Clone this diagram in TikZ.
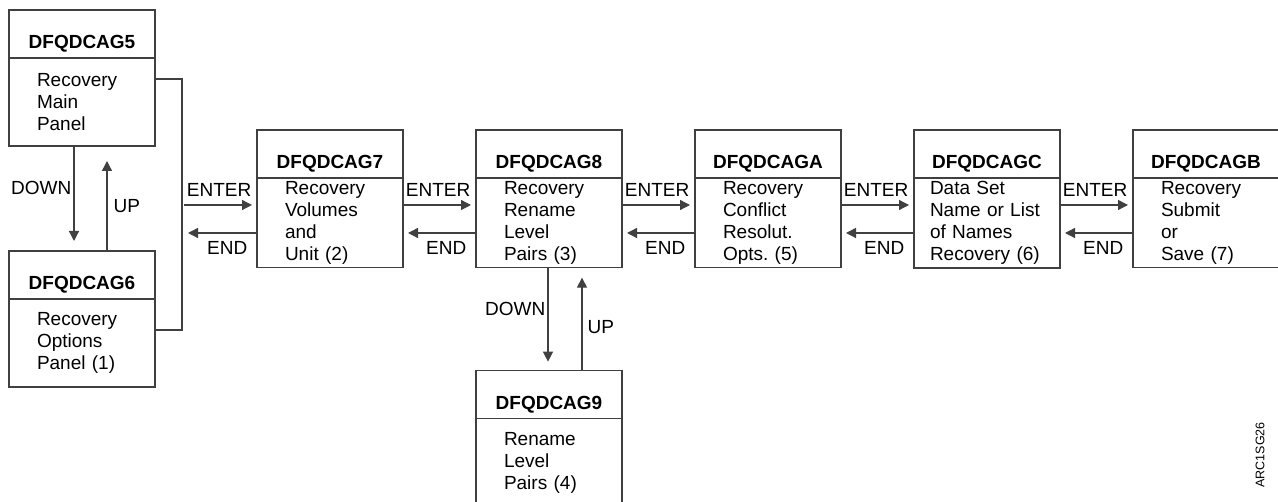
\documentclass[tikz,border=0pt]{standalone}
\usepackage{fontspec}
\setmainfont{Liberation Sans}
\usetikzlibrary{positioning, arrows.meta}

\begin{document}
\frenchspacing
\begin{tikzpicture}[
    x=1pt, y=1pt,
    hdr/.style={draw=black!75, line width=1.3pt, outer sep=0pt, minimum width=146pt, inner ysep=0pt, text height=39pt, text depth=9pt, font=\fontsize{19}{22}\selectfont\bfseries},
    body/.style={draw=black!75, line width=1.3pt, outer sep=0pt, minimum width=146pt, minimum height=88pt, inner xsep=28pt, text width=90pt, align=left, font=\fontsize{19}{22}\selectfont},
    arr/.style={-{Triangle[length=10pt, width=10pt]}, line width=1.3pt, draw=black!75},
    lbl/.style={font=\fontsize{19}{22}\selectfont, inner sep=2pt}
]
    \clip (0,0) rectangle (1278,502);

    % left column
    \node[hdr, anchor=north west] (h5) at (9,492) {DFQDCAG5};
    \node[body, below=0pt of h5] (b5) {Recovery\\Main\\Panel};
    \node[hdr, below=105pt of b5] (h6) {DFQDCAG6};
    \node[body, below=0pt of h6] (b6) {Recovery\\Options\\Panel (1)};

    % main row
    \node[hdr, anchor=north west] (h7) at (257,372) {DFQDCAG7};
    \node[body, below=0pt of h7] (b7) {Recovery\\Volumes\\and\\Unit (2)};
    \node[hdr, right=73pt of h7] (h8) {DFQDCAG8};
    \node[body, below=0pt of h8] (b8) {Recovery\\Rename\\Level\\Pairs (3)};
    \node[hdr, right=73pt of h8] (hA) {DFQDCAGA};
    \node[body, below=0pt of hA] (bA) {Recovery\\Conflict\\Resolut.\\Opts. (5)};
    \node[hdr, right=73pt of hA] (hC) {DFQDCAGC};
    \node[body, below=0pt of hC, inner xsep=16pt, text width=114pt] (bC) {Data Set\\Name or List\\of Names\\Recovery (6)};
    \node[hdr, right=73pt of hC] (hB) {DFQDCAGB};
    \node[body, below=0pt of hB] (bB) {Recovery\\Submit\\or\\Save (7)};

    % below DFQDCAG8
    \node[hdr, below=103pt of b8] (h9) {DFQDCAG9};
    \node[body, below=0pt of h9] (b9) {Rename\\Level\\Pairs (4)};

    \node[rotate=90, font=\fontsize{12.5}{14}\selectfont] (id) at (1260,47) {ARC1SG26};

    % bracket from the left column
    \coordinate (brk1) at (182,297);
    \coordinate (brk2) at (182,269);
    \draw[line width=1.3pt, draw=black!75] ([yshift=23pt]b5.east) -| (brk1) -- (brk2) |- ([yshift=13pt]b6.east);

    % up and down
    \draw[arr, shorten >=10pt] ([xshift=65pt]b5.south west) -- ([xshift=65pt]h6.north west) node[lbl, pos=0.46, anchor=base east] {DOWN};
    \draw[arr, shorten >=15pt] ([xshift=98pt]h6.north west) -- ([xshift=98pt]b5.south west) node[lbl, pos=0.37, anchor=base west, xshift=4pt] {UP};
    \draw[arr, shorten >=9pt] ([xshift=72pt]b8.south west) -- ([xshift=72pt]h9.north west) node[lbl, pos=0.46, anchor=base east] {DOWN};
    \draw[arr, shorten >=10pt] ([xshift=106pt]h9.north west) -- ([xshift=106pt]b8.south west) node[lbl, pos=0.36, anchor=base west, xshift=3pt] {UP};

    % enter and end
    \draw[arr, shorten <=2pt, shorten >=5pt] (brk1) -- ([yshift=-27pt]b7.north west) node[lbl, pos=1, anchor=base east, xshift=-3pt, yshift=8pt] {ENTER};
    \draw[arr, shorten >=6pt] ([yshift=-55pt]b7.north west) -- (brk2) node[lbl, pos=0, anchor=base east, xshift=-7pt, yshift=-22pt] {END};

    \draw[arr, shorten >=5pt] ([yshift=-27pt]b7.north east) -- ([yshift=-27pt]b8.north west) node[lbl, pos=1, anchor=base east, xshift=-3pt, yshift=8pt] {ENTER};
    \draw[arr, shorten >=5pt] ([yshift=-55pt]b8.north west) -- ([yshift=-55pt]b7.north east) node[lbl, pos=0, anchor=base east, xshift=-7pt, yshift=-22pt] {END};

    \draw[arr, shorten >=5pt] ([yshift=-27pt]b8.north east) -- ([yshift=-27pt]bA.north west) node[lbl, pos=1, anchor=base east, xshift=-3pt, yshift=8pt] {ENTER};
    \draw[arr, shorten >=5pt] ([yshift=-55pt]bA.north west) -- ([yshift=-55pt]b8.north east) node[lbl, pos=0, anchor=base east, xshift=-7pt, yshift=-22pt] {END};

    \draw[arr, shorten >=5pt] ([yshift=-27pt]bA.north east) -- ([yshift=-27pt]bC.north west) node[lbl, pos=1, anchor=base east, xshift=-3pt, yshift=8pt] {ENTER};
    \draw[arr, shorten >=5pt] ([yshift=-55pt]bC.north west) -- ([yshift=-55pt]bA.north east) node[lbl, pos=0, anchor=base east, xshift=-7pt, yshift=-22pt] {END};

    \draw[arr, shorten >=5pt] ([yshift=-27pt]bC.north east) -- ([yshift=-27pt]bB.north west) node[lbl, pos=1, anchor=base east, xshift=-3pt, yshift=8pt] {ENTER};
    \draw[arr, shorten >=5pt] ([yshift=-55pt]bB.north west) -- ([yshift=-55pt]bC.north east) node[lbl, pos=0, anchor=base east, xshift=-7pt, yshift=-22pt] {END};
\end{tikzpicture}
\end{document}
